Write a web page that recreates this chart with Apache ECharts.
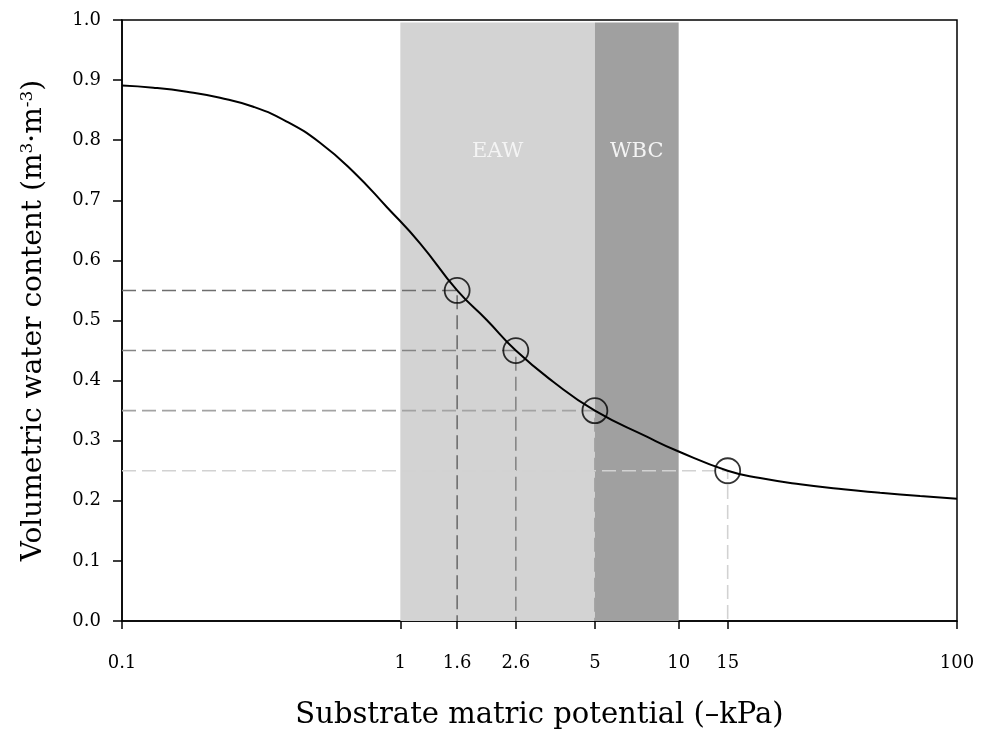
<!DOCTYPE html>
<html>
<head>
<meta charset="utf-8">
<script src="https://cdn.jsdelivr.net/npm/echarts@6/dist/echarts.min.js"></script>
<style>html,body{margin:0;padding:0;background:#fff}#c{width:984px;height:735px}</style>
</head>
<body>
<div id="c"></div>
<script>
// Water retention curve (x: -kPa, y: m3/m3)
const curveX = [0.1, 0.1296, 0.1709, 0.225, 0.2963, 0.3906, 0.5145, 0.6779, 0.8936, 1.177, 1.6, 2.044, 2.6, 3.541, 5, 7.68, 10, 15, 19.61, 27.31, 39.06, 52.93, 73.7, 100];
const curveY = [0.891, 0.8874, 0.8807, 0.8707, 0.8557, 0.8311, 0.7958, 0.7476, 0.6889, 0.6285, 0.55, 0.5008, 0.45, 0.3982, 0.35, 0.3067, 0.282, 0.25, 0.2379, 0.2275, 0.2191, 0.2135, 0.208, 0.2035];
// Marked points
const pointX = [1.6, 2.6, 5, 15];
const pointY = [0.55, 0.45, 0.35, 0.25];
const guideColors = ['#6e6e6e', '#858585', '#a3a3a3', '#d2d2d2'];
// Shaded zones
const zoneNames = ['EAW', 'WBC'];
const zoneFrom = [1, 5];
const zoneTo = [5, 10];
const zoneTop = 0.996;
const zoneColors = ['#d3d3d3', '#a0a0a0'];
// Ticks
const xTicks = [0.1, 1, 1.6, 2.6, 5, 10, 15, 100];

const FONT = 'DejaVu Serif';
const chart = echarts.init(document.getElementById('c'), null, {renderer: 'canvas'});

const series = [];
series.push({
  type: 'line', data: [], z: 0,
  markArea: {
    silent: true,
    data: zoneNames.map((n, i) => [
      {name: n, xAxis: zoneFrom[i], yAxis: 0, itemStyle: {color: zoneColors[i], opacity: 1},
       label: {show: true, position: 'insideTop', distance: 119, color: '#f4f4f4', fontFamily: FONT, fontSize: 21}},
      {xAxis: zoneTo[i], yAxis: zoneTop}
    ])
  }
});
pointX.forEach((px, i) => {
  series.push({
    type: 'line', symbol: 'none', z: 2, silent: true,
    lineStyle: {color: guideColors[i], width: 1.6, type: [14, 6]},
    data: [[0.1, pointY[i]], [px, pointY[i]], [px, 0]]
  });
});
series.push({
  type: 'line', symbol: 'none', z: 3, smooth: 0.5, silent: true,
  lineStyle: {color: '#000', width: 2},
  data: curveX.map((x, i) => [x, curveY[i]])
});
series.push({
  type: 'scatter', z: 4, symbol: 'circle', symbolSize: 25, silent: true,
  itemStyle: {color: 'rgba(0,0,0,0)', borderColor: '#000', borderWidth: 1.8},
  data: pointX.map((x, i) => [x, pointY[i]])
});

chart.setOption({
  animation: false,
  grid: {left: 122, right: 27, top: 20, bottom: 114, show: true, borderColor: '#000', borderWidth: 1.5, backgroundColor: 'transparent'},
  xAxis: {
    type: 'log', logBase: 10, min: 0.1, max: 100,
    name: 'Substrate matric potential (\u2013kPa)', nameLocation: 'middle', nameGap: 80,
    nameTextStyle: {fontFamily: FONT, fontSize: 29, color: '#000'},
    axisLine: {show: true, lineStyle: {color: '#000', width: 1.5}},
    axisTick: {show: true, inside: false, length: 8, lineStyle: {color: '#000', width: 1.5}, customValues: xTicks},
    axisLabel: {fontFamily: FONT, fontSize: 18, color: '#000', margin: 33, customValues: xTicks,
      formatter: v => String(v)},
    splitLine: {show: false}, minorTick: {show: false}
  },
  yAxis: {
    type: 'value', min: 0, max: 1, interval: 0.1,
    name: 'Volumetric water content (m{sup|3}\u00b7m{sup|-3})', nameLocation: 'middle', nameGap: 74, nameRotate: 90,
    nameTextStyle: {fontFamily: FONT, fontSize: 28, color: '#000',
      rich: {sup: {fontFamily: FONT, fontSize: 17, color: '#000', verticalAlign: 'top', padding: [0, 0, 12, 0]}}},
    axisLine: {show: true, lineStyle: {color: '#000', width: 1.5}},
    axisTick: {show: true, inside: false, length: 9, lineStyle: {color: '#000', width: 1.5}},
    axisLabel: {fontFamily: FONT, fontSize: 18, color: '#000', margin: 21, formatter: v => v.toFixed(1)},
    splitLine: {show: false}
  },
  series: series
});
</script>
</body>
</html>
